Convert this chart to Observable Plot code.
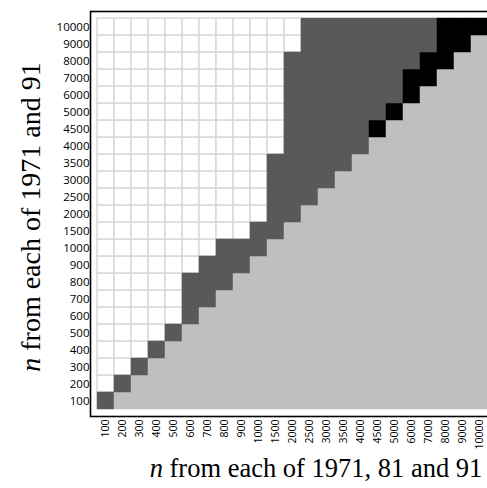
<!DOCTYPE html>
<html>
<head>
<meta charset="utf-8">
<script src="https://cdn.jsdelivr.net/npm/d3@7"></script>
<script src="https://cdn.jsdelivr.net/npm/@observablehq/plot@0.6"></script>
<style>
  html, body { margin: 0; padding: 0; background: white; overflow: hidden; }
  #chart svg { max-width: none !important; display: block; }
</style>
</head>
<body>
<div id="chart"></div>
<script>
// Sample-size categories (both axes)
const sizes = ["100","200","300","400","500","600","700","800","900","1000","1500","2000","2500","3000","3500","4000","4500","5000","6000","7000","8000","9000","10000"];
// For each row (y = n from each of 1971 and 91), first column where the shaded band begins
const bandFrom = ["100","200","300","400","500","600","600","600","700","800","1000","1500","1500","1500","1500","2000","2000","2000","2000","2000","2000","2500","2500"];
// For each row, first column shown in black (null = none)
const blackFrom = [null,null,null,null,null,null,null,null,null,null,null,null,null,null,null,null,"4500","5000","6000","6000","7000","8000","8000"];
// Cell classes and their colours
const kinds = ["band", "black", "below"];
const kindColors = ["#595959", "#000000", "#bfbfbf"];

const idx = s => sizes.indexOf(s);
const cells = [];
sizes.forEach((row, r) => {
  sizes.forEach((col, c) => {
    let kind;
    if (c > r) kind = "below";
    else if (c < idx(bandFrom[r])) kind = "white";
    else if (blackFrom[r] !== null && c >= idx(blackFrom[r])) kind = "black";
    else kind = "band";
    cells.push({row, col, kind});
  });
});

const chart = Plot.plot({
  width: 495,
  height: 488,
  marginLeft: 90,
  marginRight: 0,
  marginTop: 11,
  marginBottom: 72,
  style: {fontFamily: "'Open Sans', sans-serif", background: "white", color: "black"},
  x: {type: "band", domain: sizes, padding: 0, label: null},
  y: {type: "band", domain: sizes.slice().reverse(), padding: 0, label: null},
  color: {domain: kinds, range: kindColors},
  marks: [
    Plot.cell(cells.filter(d => d.kind === "white"), {x: "col", y: "row", fill: "white", stroke: "#d9d9d9", strokeWidth: 1.5, inset: 0}),
    Plot.cell(cells.filter(d => d.kind !== "white"), {x: "col", y: "row", fill: "kind", stroke: "kind", strokeWidth: 0.5, inset: 0}),
    Plot.frame({stroke: "black", strokeWidth: 1.6}),
    Plot.axisX({tickRotate: -90, tickSize: 0, tickPadding: 3, fontSize: 10.5, label: null}),
    Plot.axisY({tickSize: 0, tickPadding: 1, fontSize: 11.5, label: null})
  ]
});

document.getElementById("chart").appendChild(chart);

const svg = d3.select(chart);
const xl = svg.append("text")
  .attr("x", 316).attr("y", 477)
  .attr("text-anchor", "middle")
  .style("font-family", "'Liberation Serif', 'Times New Roman', serif")
  .style("font-size", "26.5px")
  .attr("fill", "black");
xl.append("tspan").style("font-style", "italic").text("n");
xl.append("tspan").text(" from each of 1971, 81 and 91");

const yl = svg.append("text")
  .attr("transform", "translate(40,217) rotate(-90)")
  .attr("text-anchor", "middle")
  .style("font-family", "'Liberation Serif', 'Times New Roman', serif")
  .style("font-size", "28px")
  .attr("fill", "black");
yl.append("tspan").style("font-style", "italic").text("n");
yl.append("tspan").text(" from each of 1971 and 91");
</script>
</body>
</html>
